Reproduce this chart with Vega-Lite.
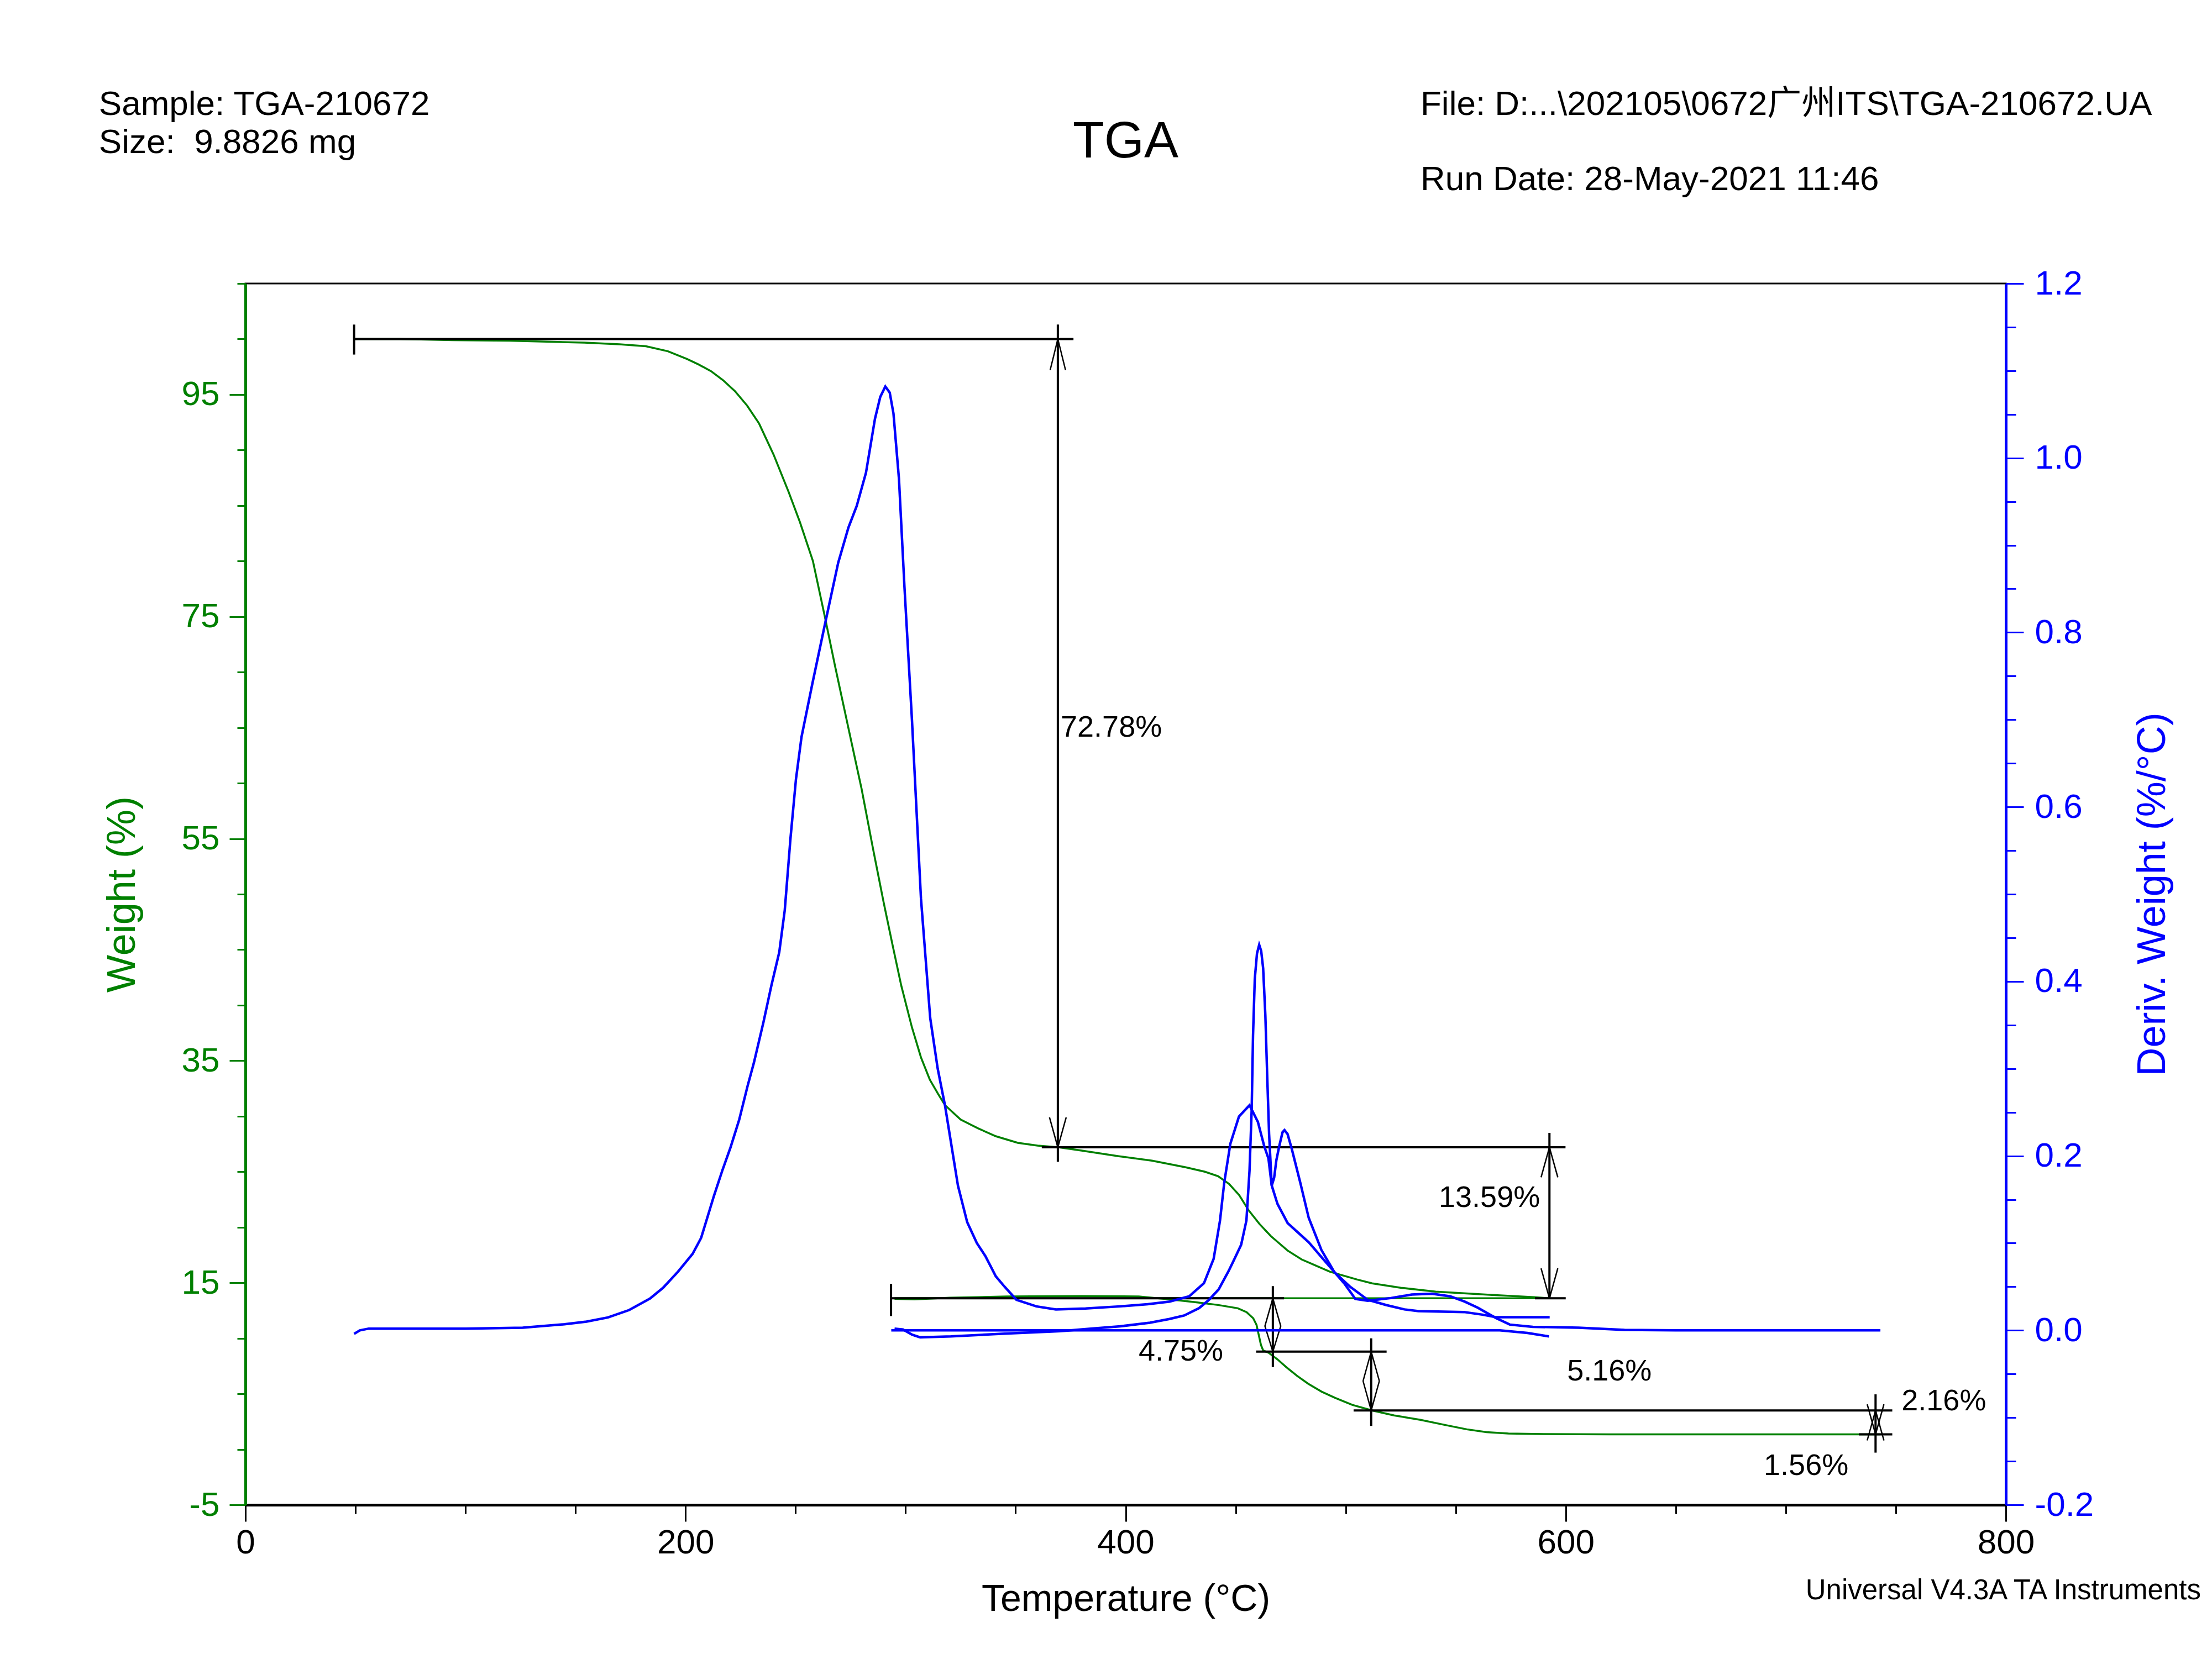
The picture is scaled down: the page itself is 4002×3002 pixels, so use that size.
{
"$schema": "https://vega.github.io/schema/vega-lite/v6.json",
"width": 3185, "height": 2210,
"autosize": {"type": "none"},
"padding": {"left": 444, "top": 513, "right": 373, "bottom": 279},
"background": "white",
"config": {"view": {"stroke": "black", "strokeWidth": 3}, "font": "Liberation Sans, Noto Sans CJK SC", "axis": {"grid": false, "labelFont": "Liberation Sans", "titleFont": "Liberation Sans"}},
"datasets": {
"weight": [
{"run":"w1","T":49.4,"w":100.0},{"run":"w1","T":70,"w":100.0},{"run":"w1","T":94,"w":99.9},{"run":"w1","T":120,"w":99.85},{"run":"w1","T":154,"w":99.67},{"run":"w1","T":170,"w":99.52},{"run":"w1","T":182,"w":99.35},{"run":"w1","T":192,"w":98.9},{"run":"w1","T":200.7,"w":98.2},{"run":"w1","T":206,"w":97.7},{"run":"w1","T":211.6,"w":97.1},{"run":"w1","T":217,"w":96.3},{"run":"w1","T":222.5,"w":95.3},{"run":"w1","T":228,"w":94.0},{"run":"w1","T":233.4,"w":92.4},{"run":"w1","T":240,"w":89.6},{"run":"w1","T":246.9,"w":86.2},{"run":"w1","T":252,"w":83.5},{"run":"w1","T":257.9,"w":80.0},{"run":"w1","T":263.3,"w":75.0},{"run":"w1","T":268,"w":70.5},{"run":"w1","T":274.2,"w":64.8},{"run":"w1","T":277.8,"w":61.5},{"run":"w1","T":280,"w":59.5},{"run":"w1","T":285.2,"w":54.1},{"run":"w1","T":290,"w":49.3},{"run":"w1","T":294,"w":45.5},{"run":"w1","T":298,"w":41.8},{"run":"w1","T":302.9,"w":38.0},{"run":"w1","T":307,"w":35.3},{"run":"w1","T":311,"w":33.3},{"run":"w1","T":314.8,"w":32.0},{"run":"w1","T":317.9,"w":31.0},{"run":"w1","T":325,"w":29.7},{"run":"w1","T":333,"w":28.9},{"run":"w1","T":341,"w":28.2},{"run":"w1","T":351,"w":27.6},{"run":"w1","T":360,"w":27.35},{"run":"w1","T":369.5,"w":27.2},{"run":"w1","T":380,"w":26.9},{"run":"w1","T":396.9,"w":26.4},{"run":"w1","T":412,"w":26.0},{"run":"w1","T":427.3,"w":25.4},{"run":"w1","T":436,"w":25.0},{"run":"w1","T":442,"w":24.6},{"run":"w1","T":447,"w":23.9},{"run":"w1","T":451.6,"w":22.9},{"run":"w1","T":456,"w":21.5},{"run":"w1","T":460.8,"w":20.3},{"run":"w1","T":466,"w":19.2},{"run":"w1","T":473.6,"w":17.9},{"run":"w1","T":480,"w":17.1},{"run":"w1","T":487,"w":16.5},{"run":"w1","T":492.8,"w":16.0},{"run":"w1","T":505,"w":15.3},{"run":"w1","T":512,"w":14.95},{"run":"w1","T":525,"w":14.55},{"run":"w1","T":540.9,"w":14.2},{"run":"w1","T":566.7,"w":13.9},{"run":"w1","T":585.5,"w":13.7},{"run":"w1","T":592.6,"w":13.6},
{"run":"w2","T":295,"w":13.55},{"run":"w2","T":304,"w":13.5},{"run":"w2","T":320,"w":13.65},{"run":"w2","T":333,"w":13.7},{"run":"w2","T":346,"w":13.77},{"run":"w2","T":380,"w":13.8},{"run":"w2","T":406,"w":13.77},{"run":"w2","T":420,"w":13.5},{"run":"w2","T":431,"w":13.27},{"run":"w2","T":442,"w":13.0},{"run":"w2","T":451,"w":12.7},{"run":"w2","T":455,"w":12.35},{"run":"w2","T":458,"w":11.8},{"run":"w2","T":459.5,"w":11.2},{"run":"w2","T":460.5,"w":10.3},{"run":"w2","T":461.5,"w":9.4},{"run":"w2","T":462.5,"w":8.9},{"run":"w2","T":465,"w":8.7},{"run":"w2","T":469,"w":8.1},{"run":"w2","T":473,"w":7.4},{"run":"w2","T":478,"w":6.6},{"run":"w2","T":483,"w":5.9},{"run":"w2","T":489,"w":5.2},{"run":"w2","T":495,"w":4.65},{"run":"w2","T":503,"w":4.0},{"run":"w2","T":512,"w":3.5},{"run":"w2","T":522,"w":3.05},{"run":"w2","T":534,"w":2.65},{"run":"w2","T":545,"w":2.2},{"run":"w2","T":555,"w":1.8},{"run":"w2","T":564,"w":1.55},{"run":"w2","T":574,"w":1.42},{"run":"w2","T":590,"w":1.37},{"run":"w2","T":620,"w":1.35},{"run":"w2","T":743,"w":1.35},
{"run":"w3","T":295,"w":13.6},{"run":"w3","T":400,"w":13.6},{"run":"w3","T":500,"w":13.6},{"run":"w3","T":593,"w":13.6}
],
"deriv": [
{"run":"d1","T":49.4,"d":-0.004},{"run":"d1","T":52,"d":0.0},{"run":"d1","T":56,"d":0.002},{"run":"d1","T":80,"d":0.002},{"run":"d1","T":100,"d":0.002},{"run":"d1","T":126,"d":0.003},{"run":"d1","T":135,"d":0.005},{"run":"d1","T":145,"d":0.007},{"run":"d1","T":155,"d":0.010},{"run":"d1","T":164.8,"d":0.0148},{"run":"d1","T":174.4,"d":0.0233},{"run":"d1","T":184,"d":0.0367},{"run":"d1","T":189.8,"d":0.0488},{"run":"d1","T":196.5,"d":0.067},{"run":"d1","T":203.2,"d":0.0876},{"run":"d1","T":207.1,"d":0.106},{"run":"d1","T":210,"d":0.13},{"run":"d1","T":212.9,"d":0.154},{"run":"d1","T":216.7,"d":0.183},{"run":"d1","T":220.5,"d":0.21},{"run":"d1","T":224.4,"d":0.2415},{"run":"d1","T":228.2,"d":0.28},{"run":"d1","T":231.1,"d":0.307},{"run":"d1","T":235.4,"d":0.353},{"run":"d1","T":239,"d":0.395},{"run":"d1","T":242.6,"d":0.4335},{"run":"d1","T":245.1,"d":0.4816},{"run":"d1","T":247.7,"d":0.564},{"run":"d1","T":250.2,"d":0.632},{"run":"d1","T":252.7,"d":0.68},{"run":"d1","T":257.7,"d":0.742},{"run":"d1","T":263.5,"d":0.811},{"run":"d1","T":269.4,"d":0.88},{"run":"d1","T":274,"d":0.92},{"run":"d1","T":277.8,"d":0.945},{"run":"d1","T":282,"d":0.983},{"run":"d1","T":286.1,"d":1.045},{"run":"d1","T":288.5,"d":1.07},{"run":"d1","T":290.8,"d":1.082},{"run":"d1","T":292.8,"d":1.075},{"run":"d1","T":294.5,"d":1.051},{"run":"d1","T":297,"d":0.976},{"run":"d1","T":299.5,"d":0.852},{"run":"d1","T":302.9,"d":0.70},{"run":"d1","T":307,"d":0.495},{"run":"d1","T":311.2,"d":0.358},{"run":"d1","T":314.6,"d":0.30},{"run":"d1","T":317.9,"d":0.258},{"run":"d1","T":323.8,"d":0.166},{"run":"d1","T":328,"d":0.124},{"run":"d1","T":332.4,"d":0.10},{"run":"d1","T":336.3,"d":0.085},{"run":"d1","T":341,"d":0.062},{"run":"d1","T":345,"d":0.05},{"run":"d1","T":350.4,"d":0.035},{"run":"d1","T":359.4,"d":0.0275},{"run":"d1","T":368.3,"d":0.024},{"run":"d1","T":381.8,"d":0.025},{"run":"d1","T":397.5,"d":0.0275},{"run":"d1","T":410,"d":0.03},{"run":"d1","T":420,"d":0.033},{"run":"d1","T":428.9,"d":0.039},{"run":"d1","T":435.6,"d":0.054},{"run":"d1","T":440,"d":0.082},{"run":"d1","T":442.9,"d":0.126},{"run":"d1","T":444.8,"d":0.169},{"run":"d1","T":447.6,"d":0.214},{"run":"d1","T":451.5,"d":0.245},{"run":"d1","T":456.3,"d":0.258},{"run":"d1","T":460.1,"d":0.239},{"run":"d1","T":463,"d":0.211},{"run":"d1","T":464.9,"d":0.197},{"run":"d1","T":466.4,"d":0.166},{"run":"d1","T":469,"d":0.145},{"run":"d1","T":473.6,"d":0.123},{"run":"d1","T":478.4,"d":0.112},{"run":"d1","T":483.2,"d":0.101},{"run":"d1","T":489,"d":0.084},{"run":"d1","T":494.8,"d":0.067},{"run":"d1","T":502,"d":0.05},{"run":"d1","T":510,"d":0.035},{"run":"d1","T":518.4,"d":0.029},{"run":"d1","T":526.7,"d":0.024},{"run":"d1","T":533,"d":0.022},{"run":"d1","T":553.8,"d":0.021},{"run":"d1","T":562.1,"d":0.018},{"run":"d1","T":568.4,"d":0.015},{"run":"d1","T":592.7,"d":0.015},
{"run":"d2","T":295,"d":0.002},{"run":"d2","T":298.8,"d":0.001},{"run":"d2","T":303,"d":-0.005},{"run":"d2","T":306.6,"d":-0.008},{"run":"d2","T":320.5,"d":-0.007},{"run":"d2","T":343.6,"d":-0.004},{"run":"d2","T":370.5,"d":-0.001},{"run":"d2","T":381.8,"d":0.0015},{"run":"d2","T":397.5,"d":0.0046},{"run":"d2","T":411,"d":0.0087},{"run":"d2","T":419.9,"d":0.013},{"run":"d2","T":426.6,"d":0.017},{"run":"d2","T":433.4,"d":0.0255},{"run":"d2","T":437.9,"d":0.035},{"run":"d2","T":442.3,"d":0.047},{"run":"d2","T":446.8,"d":0.068},{"run":"d2","T":449.5,"d":0.082},{"run":"d2","T":452.5,"d":0.098},{"run":"d2","T":454.9,"d":0.126},{"run":"d2","T":456.3,"d":0.183},{"run":"d2","T":457.3,"d":0.254},{"run":"d2","T":457.9,"d":0.338},{"run":"d2","T":458.7,"d":0.403},{"run":"d2","T":459.7,"d":0.432},{"run":"d2","T":460.7,"d":0.442},{"run":"d2","T":461.6,"d":0.435},{"run":"d2","T":462.5,"d":0.415},{"run":"d2","T":463.5,"d":0.361},{"run":"d2","T":464.4,"d":0.287},{"run":"d2","T":465.2,"d":0.225},{"run":"d2","T":466.4,"d":0.166},{"run":"d2","T":467.5,"d":0.175},{"run":"d2","T":468.5,"d":0.195},{"run":"d2","T":469.8,"d":0.211},{"run":"d2","T":471.3,"d":0.227},{"run":"d2","T":472.2,"d":0.2295},{"run":"d2","T":473.6,"d":0.225},{"run":"d2","T":475.5,"d":0.208},{"run":"d2","T":479.4,"d":0.169},{"run":"d2","T":483.2,"d":0.129},{"run":"d2","T":489,"d":0.092},{"run":"d2","T":494.8,"d":0.067},{"run":"d2","T":499.6,"d":0.053},{"run":"d2","T":504.4,"d":0.036},{"run":"d2","T":510,"d":0.034},{"run":"d2","T":520.5,"d":0.037},{"run":"d2","T":530,"d":0.041},{"run":"d2","T":539.2,"d":0.042},{"run":"d2","T":547.5,"d":0.039},{"run":"d2","T":554,"d":0.033},{"run":"d2","T":560,"d":0.026},{"run":"d2","T":568.4,"d":0.014},{"run":"d2","T":574.6,"d":0.0066},{"run":"d2","T":585,"d":0.004},{"run":"d2","T":605.9,"d":0.003},{"run":"d2","T":626.7,"d":0.0005},{"run":"d2","T":650,"d":0.0},{"run":"d2","T":743,"d":0.0},
{"run":"d3","T":293.5,"d":0.0},{"run":"d3","T":400,"d":0.0},{"run":"d3","T":500,"d":0.0},{"run":"d3","T":570,"d":0.0},{"run":"d3","T":582.6,"d":-0.003},{"run":"d3","T":592.4,"d":-0.007}
],
"segs": [
{"kind":"line","T":49.4,"w":100.0,"T2":376.3,"w2":100.0},
{"kind":"line","T":49.4,"w":98.6,"T2":49.4,"w2":101.3},
{"kind":"line","T":369.2,"w":101.3,"T2":369.2,"w2":25.9},
{"kind":"line","T":361.9,"w":27.2,"T2":599.9,"w2":27.2},
{"kind":"line","T":592.6,"w":28.5,"T2":592.6,"w2":13.6},
{"kind":"line","T":293.4,"w":13.6,"T2":472,"w2":13.6},
{"kind":"line","T":586,"w":13.6,"T2":600,"w2":13.6},
{"kind":"line","T":293.4,"w":12.0,"T2":293.4,"w2":14.9},
{"kind":"line","T":466.9,"w":14.7,"T2":466.9,"w2":7.4},
{"kind":"line","T":459.3,"w":8.8,"T2":518.6,"w2":8.8},
{"kind":"line","T":511.6,"w":10.0,"T2":511.6,"w2":2.1},
{"kind":"line","T":503.6,"w":3.5,"T2":748.4,"w2":3.5},
{"kind":"line","T":740.8,"w":4.95,"T2":740.8,"w2":-0.3},
{"kind":"line","T":733.2,"w":1.35,"T2":748.4,"w2":1.35},
{"kind":"arrow","T":369.2,"w":100.0,"T2":365.7,"w2":97.2},{"kind":"arrow","T":369.2,"w":100.0,"T2":372.7,"w2":97.2},
{"kind":"arrow","T":369.2,"w":27.2,"T2":365.4,"w2":29.9},{"kind":"arrow","T":369.2,"w":27.2,"T2":373.0,"w2":29.9},
{"kind":"arrow","T":592.6,"w":27.2,"T2":588.8,"w2":24.5},{"kind":"arrow","T":592.6,"w":27.2,"T2":596.4,"w2":24.5},
{"kind":"arrow","T":592.6,"w":13.6,"T2":588.8,"w2":16.3},{"kind":"arrow","T":592.6,"w":13.6,"T2":596.4,"w2":16.3},
{"kind":"arrow","T":466.9,"w":13.6,"T2":463.3,"w2":11.1},{"kind":"arrow","T":466.9,"w":13.6,"T2":470.5,"w2":11.1},
{"kind":"arrow","T":466.9,"w":8.8,"T2":463.3,"w2":11.1},{"kind":"arrow","T":466.9,"w":8.8,"T2":470.5,"w2":11.1},
{"kind":"arrow","T":511.6,"w":8.8,"T2":507.9,"w2":6.15},{"kind":"arrow","T":511.6,"w":8.8,"T2":515.3,"w2":6.15},
{"kind":"arrow","T":511.6,"w":3.5,"T2":507.9,"w2":6.15},{"kind":"arrow","T":511.6,"w":3.5,"T2":515.3,"w2":6.15},
{"kind":"arrow","T":740.8,"w":3.5,"T2":737.0,"w2":0.8},{"kind":"arrow","T":740.8,"w":3.5,"T2":744.6,"w2":0.8},
{"kind":"arrow","T":740.8,"w":1.35,"T2":737.0,"w2":4.05},{"kind":"arrow","T":740.8,"w":1.35,"T2":744.6,"w2":4.05}
],
"labels": [
{"T":370.5,"w":65.0,"text":"72.78%"},
{"T":542.3,"w":22.6,"text":"13.59%"},
{"T":405.9,"w":8.8,"text":"4.75%"},
{"T":600.6,"w":7.0,"text":"5.16%"},
{"T":752.6,"w":4.3,"text":"2.16%"},
{"T":690.0,"w":-1.5,"text":"1.56%"}
],
"header": [
{"kind":"hdr","T":-66.6,"w":120.2,"text":"Sample: TGA-210672"},
{"kind":"hdr","T":-66.6,"w":116.75,"text":"Size:\u00a0 9.8826 mg"},
{"kind":"hdr","T":534,"w":120.2,"text":"File: D:...\\202105\\0672广州ITS\\TGA-210672.UA"},
{"kind":"hdr","T":534,"w":113.4,"text":"Run Date: 28-May-2021 11:46"},
{"kind":"title","T":400,"w":116.35,"text":"TGA"},
{"kind":"foot","T":709,"w":-13.5,"text":"Universal V4.3A TA Instruments"}
]
},
"layer": [
{"layer": [
{"data": {"name": "weight"},
 "mark": {"type": "line", "color": "#008000", "strokeWidth": 3.5},
 "encoding": {
  "x": {"field": "T", "type": "quantitative", "scale": {"domain": [0, 800], "nice": false, "zero": false},
    "axis": {"orient": "bottom", "values": [0,50,100,150,200,250,300,350,400,450,500,550,600,650,700,750,800],
      "labelExpr": "datum.value % 200 === 0 ? '' + datum.value : ''",
      "tickSize": {"condition": {"test": "datum.value % 200 === 0", "value": 30}, "value": 16},
      "tickColor": "black", "tickWidth": 3, "domainColor": "black", "domainWidth": 5,
      "labelColor": "black", "labelFontSize": 62, "labelPadding": 8, "labelOverlap": false, "labelFlush": false, "labelBound": false,
      "title": "Temperature (°C)", "titleColor": "black", "titleFontSize": 68, "titleFontWeight": "normal", "titlePadding": 38}},
  "y": {"field": "w", "type": "quantitative", "scale": {"domain": [-5, 105], "nice": false, "zero": false},
    "axis": {"orient": "left", "values": [-5,0,5,10,15,20,25,30,35,40,45,50,55,60,65,70,75,80,85,90,95,100,105],
      "labelExpr": "(datum.value + 5) % 20 === 0 ? '' + datum.value : ''",
      "tickSize": {"condition": {"test": "(datum.value + 5) % 20 === 0", "value": 29}, "value": 15},
      "tickColor": "#008000", "tickWidth": 3, "domainColor": "#008000", "domainWidth": 5,
      "labelColor": "#008000", "labelFontSize": 62, "labelPadding": 18, "labelOverlap": false, "labelFlush": false, "labelBound": false,
      "title": "Weight (%)", "titleColor": "#008000", "titleFontSize": 72, "titleFontWeight": "normal", "titlePadding": 70}},
  "detail": {"field": "run", "type": "nominal"}
 }},
{"data": {"name": "segs"}, "transform": [{"filter": "datum.kind === 'line'"}],
 "mark": {"type": "rule", "color": "black", "strokeWidth": 4},
 "encoding": {
  "x": {"field": "T", "type": "quantitative", "scale": {"domain": [0, 800], "nice": false, "zero": false}},
  "x2": {"field": "T2"},
  "y": {"field": "w", "type": "quantitative", "scale": {"domain": [-5, 105], "nice": false, "zero": false}},
  "y2": {"field": "w2"}
 }},
{"data": {"name": "segs"}, "transform": [{"filter": "datum.kind === 'arrow'"}],
 "mark": {"type": "rule", "color": "black", "strokeWidth": 2.5},
 "encoding": {
  "x": {"field": "T", "type": "quantitative", "scale": {"domain": [0, 800], "nice": false, "zero": false}},
  "x2": {"field": "T2"},
  "y": {"field": "w", "type": "quantitative", "scale": {"domain": [-5, 105], "nice": false, "zero": false}},
  "y2": {"field": "w2"}
 }},
{"data": {"name": "labels"},
 "mark": {"type": "text", "align": "left", "baseline": "middle", "fontSize": 54, "color": "black", "font": "Liberation Sans"},
 "encoding": {
  "x": {"field": "T", "type": "quantitative", "scale": {"domain": [0, 800], "nice": false, "zero": false}},
  "y": {"field": "w", "type": "quantitative", "scale": {"domain": [-5, 105], "nice": false, "zero": false}},
  "text": {"field": "text"}
 }},
{"data": {"name": "header"}, "transform": [{"filter": "datum.kind === 'hdr'"}],
 "mark": {"type": "text", "align": "left", "baseline": "alphabetic", "fontSize": 62, "color": "black", "font": "Liberation Sans, Noto Sans CJK SC"},
 "encoding": {
  "x": {"field": "T", "type": "quantitative", "scale": {"domain": [0, 800], "nice": false, "zero": false}},
  "y": {"field": "w", "type": "quantitative", "scale": {"domain": [-5, 105], "nice": false, "zero": false}},
  "text": {"field": "text"}
 }},
{"data": {"name": "header"}, "transform": [{"filter": "datum.kind === 'title'"}],
 "mark": {"type": "text", "align": "center", "baseline": "alphabetic", "fontSize": 93, "color": "black", "font": "Liberation Sans"},
 "encoding": {
  "x": {"field": "T", "type": "quantitative", "scale": {"domain": [0, 800], "nice": false, "zero": false}},
  "y": {"field": "w", "type": "quantitative", "scale": {"domain": [-5, 105], "nice": false, "zero": false}},
  "text": {"field": "text"}
 }},
{"data": {"name": "header"}, "transform": [{"filter": "datum.kind === 'foot'"}],
 "mark": {"type": "text", "align": "left", "baseline": "alphabetic", "fontSize": 51, "color": "black", "font": "Liberation Sans"},
 "encoding": {
  "x": {"field": "T", "type": "quantitative", "scale": {"domain": [0, 800], "nice": false, "zero": false}},
  "y": {"field": "w", "type": "quantitative", "scale": {"domain": [-5, 105], "nice": false, "zero": false}},
  "text": {"field": "text"}
 }}
]},
{"layer": [
{"data": {"name": "deriv"},
 "mark": {"type": "line", "color": "#0000FF", "strokeWidth": 4.5},
 "encoding": {
  "x": {"field": "T", "type": "quantitative", "scale": {"domain": [0, 800], "nice": false, "zero": false}},
  "y": {"field": "d", "type": "quantitative", "scale": {"domain": [-0.2, 1.2], "nice": false, "zero": false},
    "axis": {"orient": "right", "values": [-0.2,-0.15,-0.1,-0.05,0,0.05,0.1,0.15,0.2,0.25,0.3,0.35,0.4,0.45,0.5,0.55,0.6,0.65,0.7,0.75,0.8,0.85,0.9,0.95,1,1.05,1.1,1.15,1.2],
      "labelExpr": "abs(round(datum.value*20)) % 4 === 0 ? replace(format(datum.value, '.1f'), '\u2212', '-') : ''",
      "tickSize": {"condition": {"test": "abs(round(datum.value*20)) % 4 === 0", "value": 32}, "value": 18},
      "tickColor": "#0000FF", "tickWidth": 3, "domainColor": "#0000FF", "domainWidth": 5,
      "labelColor": "#0000FF", "labelFontSize": 62, "labelPadding": 20, "labelOverlap": false, "labelFlush": false, "labelBound": false,
      "title": "Deriv. Weight (%/°C)", "titleColor": "#0000FF", "titleFontSize": 72, "titleFontWeight": "normal", "titlePadding": 72,
      "titleAngle": 270, "titleBaseline": "top"}},
  "detail": {"field": "run", "type": "nominal"}
 }}
]}
],
"resolve": {"scale": {"y": "independent"}, "axis": {"y": "independent"}}
}
